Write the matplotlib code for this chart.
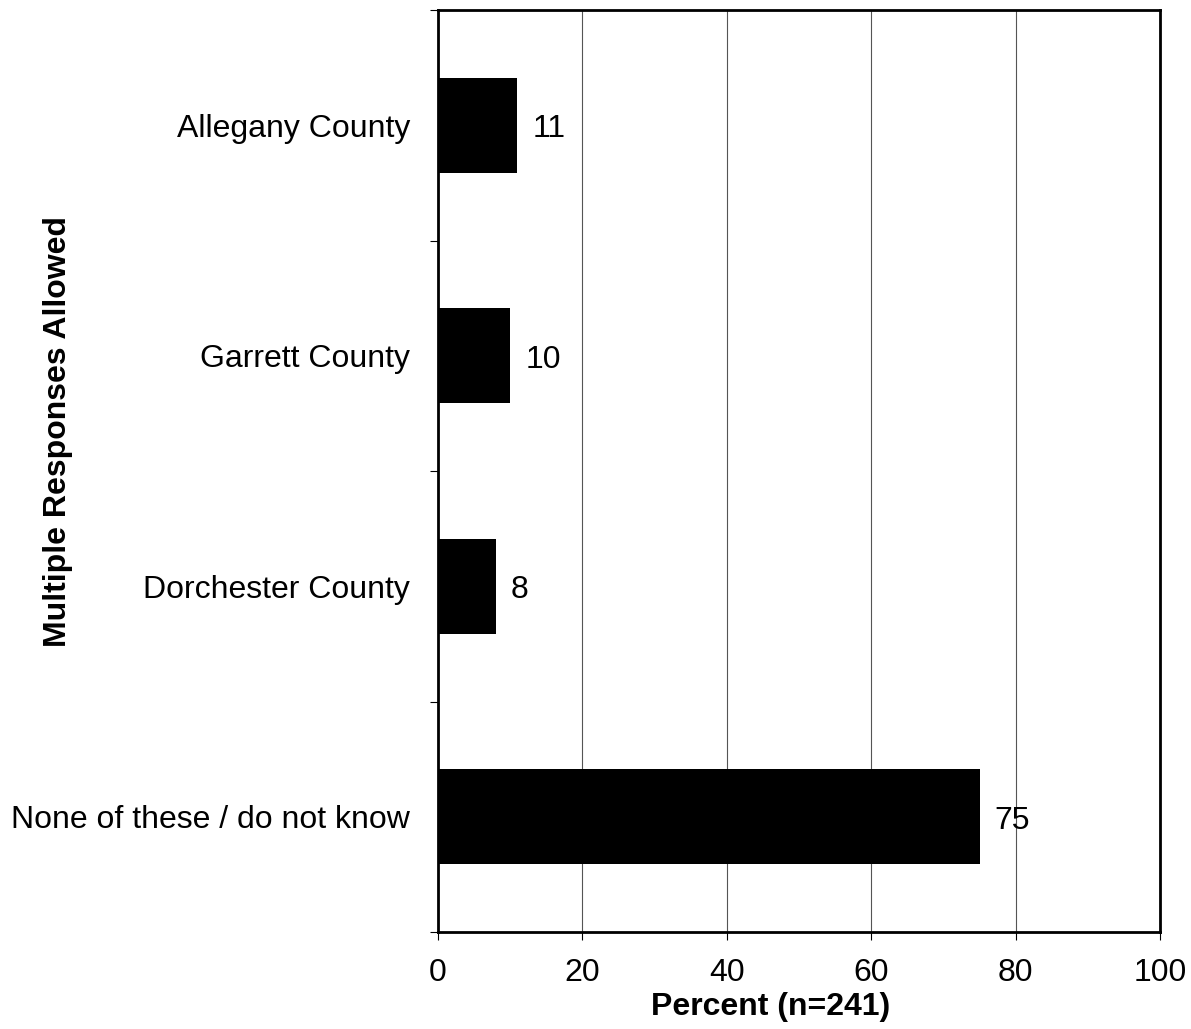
import numpy as np
import matplotlib
matplotlib.use('Agg')
import matplotlib.pyplot as plt
from matplotlib.ticker import FixedLocator

plt.rcParams['font.family'] = ['Liberation Sans', 'DejaVu Sans']

# data
categories = ['Allegany County', 'Garrett County', 'Dorchester County', 'None of these / do not know']
percents = [11, 10, 8, 75]
xticks = [0, 20, 40, 60, 80, 100]

FS = 23

fig = plt.figure(figsize=(11.91, 10.29), dpi=100)
ax = fig.add_axes([438/1191, 1 - 932/1029, (1160-438)/1191, (932-10)/1029])

y = np.arange(len(categories))
ax.barh(y, percents, height=0.41, color='black', zorder=3)

for yi, v in zip(y, percents):
    ax.annotate(str(v), (v, yi), xytext=(11, -3), textcoords='offset points',
                va='center', ha='left', fontsize=FS, zorder=4)

ax.set_xlim(0, 100)
ax.set_ylim(len(categories) - 0.5, -0.5)
ax.set_xticks(xticks)
ax.set_xticklabels([str(t) for t in xticks], fontsize=FS)
ax.set_yticks(y)
ax.set_yticklabels(categories, fontsize=FS)
ax.tick_params(axis='y', which='major', length=0, pad=20)
ax.yaxis.set_minor_locator(FixedLocator(np.arange(-0.5, len(categories), 1.0)))
ax.tick_params(axis='y', which='minor', length=6, width=0.8, direction='out')
ax.tick_params(axis='x', which='major', length=6, width=0.8, direction='out', pad=13)

ax.grid(axis='x', color='#555555', linewidth=0.8, zorder=0)
for s in ax.spines.values():
    s.set_linewidth(2)
    s.set_zorder(5)

ax.set_xlabel('Percent (n=241)', fontsize=FS, fontweight='bold')
ax.xaxis.set_label_coords(0.461, -0.065)
fig.text(58/1191, 1 - 432/1029, 'Multiple Responses Allowed', rotation=90,
         fontsize=FS, fontweight='bold', ha='center', va='center')

fig.savefig('out.png', dpi=100)
